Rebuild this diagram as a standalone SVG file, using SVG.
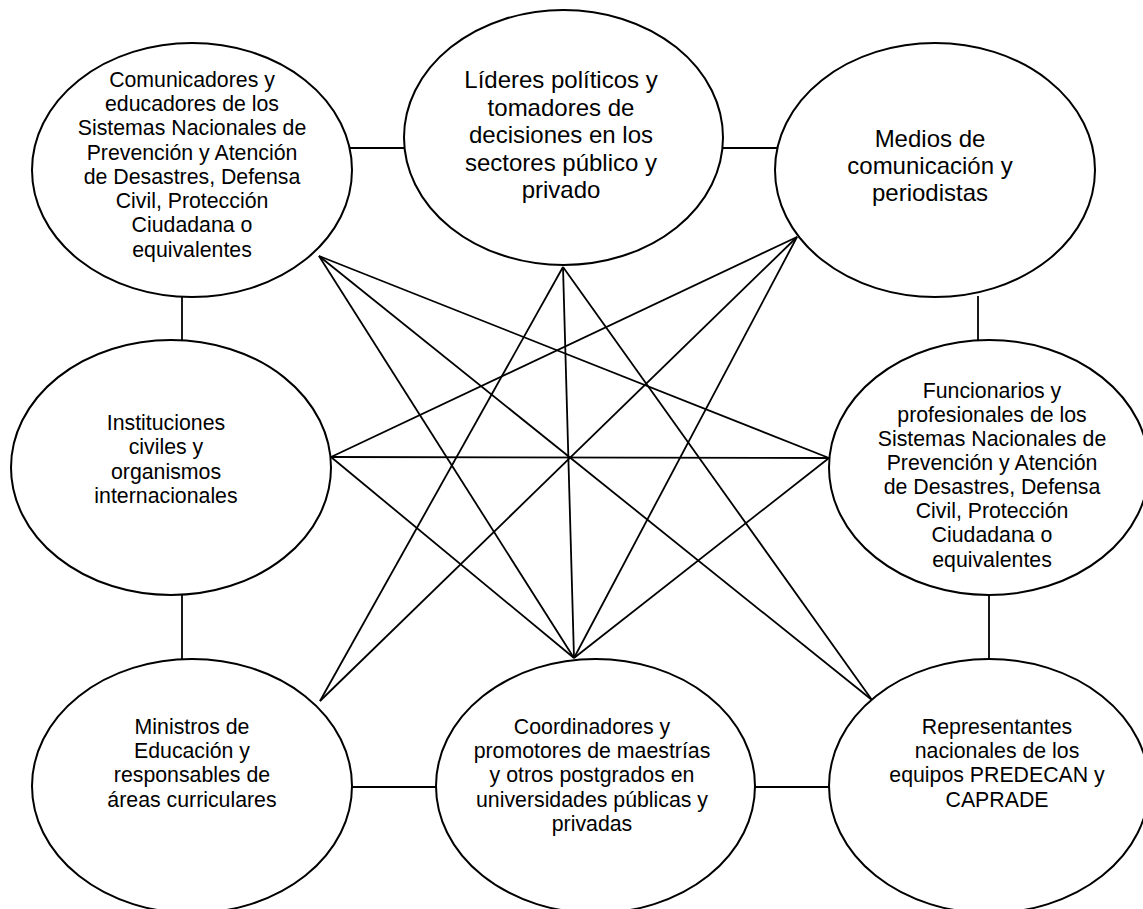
<svg xmlns="http://www.w3.org/2000/svg" width="1143" height="909" viewBox="0 0 1143 909">
<style>
.n{fill:#fff;stroke:#000;stroke-width:2}
.c line{stroke:#000;stroke-width:1.8}
text{font-family:"Liberation Sans",Arial,sans-serif;font-size:21.3px;fill:#000;text-anchor:middle}
.big{font-size:24px}
</style>
<rect width="1143" height="909" fill="#fff"/>
<g id="connectors" class="c">
<line x1="349" y1="148" x2="406" y2="148"/>
<line x1="721" y1="148" x2="777" y2="148"/>
<line x1="182" y1="296" x2="182" y2="341"/>
<line x1="978" y1="296" x2="978" y2="341"/>
<line x1="182" y1="594" x2="182" y2="660"/>
<line x1="989" y1="594" x2="989" y2="660"/>
<line x1="351" y1="787" x2="437" y2="787"/>
<line x1="754" y1="787" x2="830" y2="787"/>
<line x1="319" y1="256" x2="829" y2="458"/>
<line x1="319" y1="256" x2="872" y2="700"/>
<line x1="319" y1="256" x2="574" y2="658"/>
<line x1="563" y1="267" x2="320" y2="701"/>
<line x1="563" y1="267" x2="574" y2="658"/>
<line x1="563" y1="267" x2="872" y2="700"/>
<line x1="797" y1="237" x2="331" y2="457"/>
<line x1="797" y1="237" x2="320" y2="701"/>
<line x1="797" y1="237" x2="574" y2="658"/>
<line x1="331" y1="457" x2="829" y2="458"/>
<line x1="331" y1="457" x2="574" y2="658"/>
<line x1="829" y1="458" x2="574" y2="658"/>
</g>
<g id="n1"><ellipse class="n" cx="192" cy="170" rx="160" ry="127"/>
<text x="192" y="87">Comunicadores y</text><text x="192" y="111">educadores de los</text><text x="192" y="135">Sistemas Nacionales de</text><text x="192" y="160">Prevención y Atención</text><text x="192" y="184">de Desastres, Defensa</text><text x="192" y="208">Civil, Protección</text><text x="192" y="232">Ciudadana o</text><text x="192" y="257">equivalentes</text></g>
<g id="n2"><ellipse class="n" cx="563.5" cy="137.5" rx="159.5" ry="127.5"/>
<text class="big" x="561" y="88">Líderes políticos y</text><text class="big" x="561" y="116">tomadores de</text><text class="big" x="561" y="143">decisiones en los</text><text class="big" x="561" y="171">sectores público y</text><text class="big" x="561" y="198">privado</text></g>
<g id="n3"><ellipse class="n" cx="935" cy="170" rx="160" ry="127"/>
<text class="big" x="930" y="147">Medios de</text><text class="big" x="930" y="174">comunicación y</text><text class="big" x="930" y="201">periodistas</text></g>
<g id="n4"><ellipse class="n" cx="171" cy="467.5" rx="160" ry="127.5"/>
<text x="166" y="430">Instituciones</text><text x="166" y="454">civiles y</text><text x="166" y="479">organismos</text><text x="166" y="503">internacionales</text></g>
<g id="n5"><ellipse class="n" cx="989" cy="467.5" rx="160" ry="127.5"/>
<text x="992" y="398">Funcionarios y</text><text x="992" y="422">profesionales de los</text><text x="992" y="446">Sistemas Nacionales de</text><text x="992" y="470">Prevención y Atención</text><text x="992" y="494">de Desastres, Defensa</text><text x="992" y="518">Civil, Protección</text><text x="992" y="542">Ciudadana o</text><text x="992" y="567">equivalentes</text></g>
<g id="n6"><ellipse class="n" cx="192" cy="786" rx="160" ry="127"/>
<text x="192" y="734">Ministros de</text><text x="192" y="758">Educación y</text><text x="192" y="782">responsables de</text><text x="192" y="807">áreas curriculares</text></g>
<g id="n7"><ellipse class="n" cx="595.5" cy="786" rx="159.5" ry="127"/>
<text x="592" y="734">Coordinadores y</text><text x="592" y="758">promotores de maestrías</text><text x="592" y="782">y otros postgrados en</text><text x="592" y="807">universidades públicas y</text><text x="592" y="831">privadas</text></g>
<g id="n8"><ellipse class="n" cx="989" cy="786" rx="160" ry="127"/>
<text x="997" y="734">Representantes</text><text x="997" y="758">nacionales de los</text><text x="997" y="782">equipos PREDECAN y</text><text x="997" y="807">CAPRADE</text></g>
</svg>
